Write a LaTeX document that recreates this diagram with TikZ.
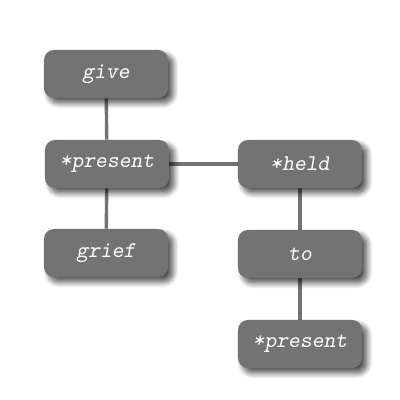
\documentclass[tikz,border=0pt]{standalone}
\usepackage{tikz}
\usetikzlibrary{
  shadows.blur,   % 节点阴影
  backgrounds     % 连线放在底层
}
\definecolor{wordgray}{RGB}{115,115,115}

\begin{document}
\begin{tikzpicture}[x=0.025cm, y=-0.025cm,
  word/.style={rounded corners=7pt, fill=wordgray, text=white,
    minimum width=3.1cm, minimum height=1.2cm, inner sep=0pt,
    font=\ttfamily\slshape\fontsize{16}{18}\selectfont,
    blur shadow={shadow xshift=3.5pt, shadow yshift=-3.5pt, shadow blur radius=4pt,
      shadow blur steps=10, shadow opacity=70}},
  wordlink/.style={draw=wordgray, line width=2.4pt}]

  \useasboundingbox (0,0) rectangle (400,400);

  % =============== 左列 ===============
  \node[word] (give)  at (106,74)  {give};
  \node[word] (pres)  at (107,164) {*present};
  \node[word] (grief) at (106,253) {grief};

  % =============== 右列 ===============
  \node[word] (held)  at (300,164) {*held};
  \node[word] (to)    at (300,254) {to};
  \node[word] (presb) at (300,344) {*present};

  % =============== 连线 ===============
  \begin{scope}[on background layer]
    \draw[wordlink] (give) -- (pres);
    \draw[wordlink] (pres) -- (grief);
    \draw[wordlink] (pres) -- (held);
    \draw[wordlink] (held) -- (to);
    \draw[wordlink] (to) -- (presb);
  \end{scope}

\end{tikzpicture}
\end{document}
